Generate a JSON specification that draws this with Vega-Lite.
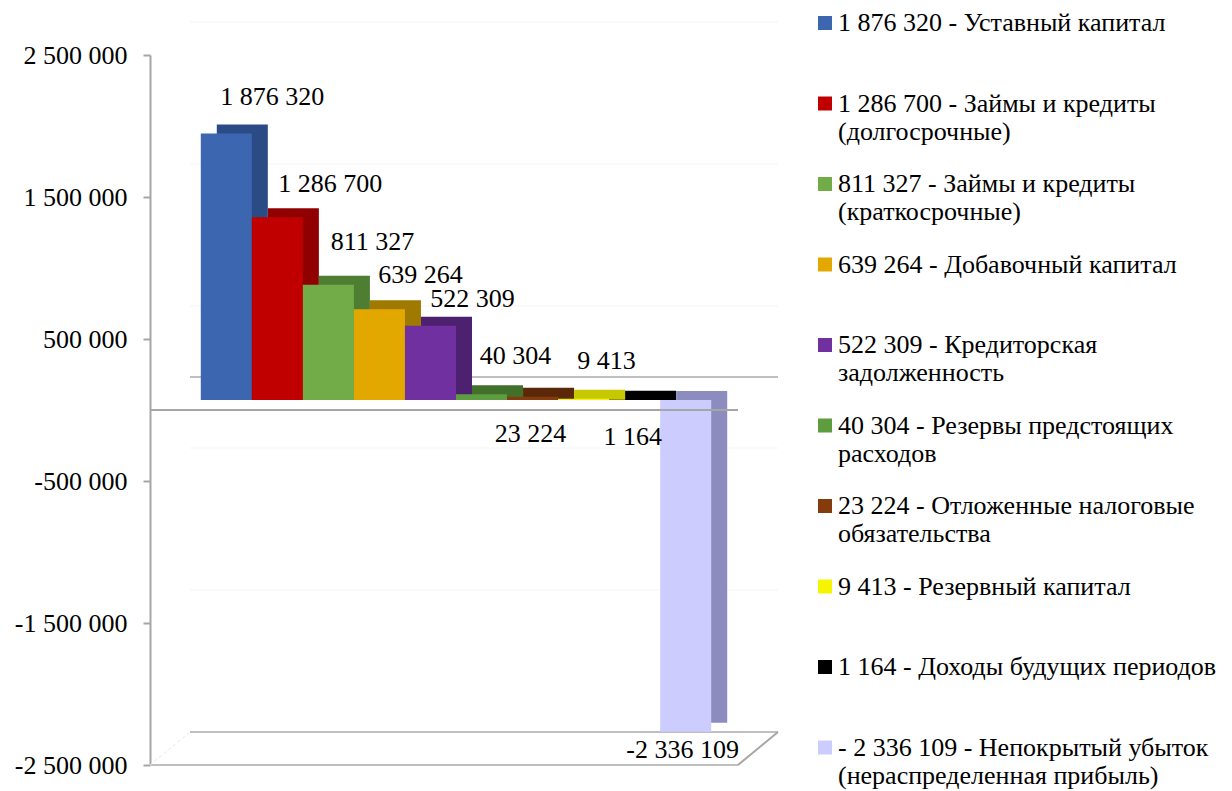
{
  "$schema": "https://vega.github.io/schema/vega-lite/v6.json",
  "width": 588,
  "height": 710,
  "autosize": {"type": "none"},
  "padding": {"left": 150, "top": 55, "right": 494, "bottom": 26},
  "background": "white",
  "config": {
    "view": {"stroke": null},
    "locale": {"number": {"decimal": ",", "thousands": " ", "grouping": [3], "currency": ["", ""], "minus": "-"}},
    "font": "Liberation Serif",
    "text": {"font": "Liberation Serif", "fontSize": 26, "color": "#000000", "baseline": "middle"}
  },
  "data": {
    "values": [
      {"id": 1, "name": "1 876 320 - Уставный капитал", "value": 1876320},
      {"id": 2, "name": "1 286 700 - Займы и кредиты\n(долгосрочные)", "value": 1286700},
      {"id": 3, "name": "811 327 - Займы и кредиты\n(краткосрочные)", "value": 811327},
      {"id": 4, "name": "639 264 - Добавочный капитал", "value": 639264},
      {"id": 5, "name": "522 309 - Кредиторская\nзадолженность", "value": 522309},
      {"id": 6, "name": "40 304 - Резервы предстоящих\nрасходов", "value": 40304},
      {"id": 7, "name": "23 224 - Отложенные налоговые\nобязательства", "value": 23224},
      {"id": 8, "name": "9 413 - Резервный капитал", "value": 9413},
      {"id": 9, "name": "1 164 - Доходы будущих периодов", "value": 1164},
      {"id": 10, "name": "- 2 336 109 -  Непокрытый убыток\n(нераспределенная прибыль)", "value": -2336109}
    ]
  },
  "layer": [
    {
      "data": {"values": [{"g": 2500000}, {"g": 1500000}, {"g": 500000}, {"g": -500000}, {"g": -1500000}]},
      "mark": {"type": "rule", "color": "#F5F5F5", "strokeWidth": 1, "xOffset": 40, "x2Offset": 40, "yOffset": -33},
      "encoding": {
        "x": {"value": 0},
        "x2": {"value": "width"},
        "y": {"field": "g", "type": "quantitative", "title": null,
          "scale": {"domain": [-2500000, 2500000], "nice": false, "zero": false},
          "axis": {
            "values": [2500000, 1500000, 500000, -500000, -1500000, -2500000],
            "format": ",d", "grid": false, "title": null,
            "domainColor": "#A6A6A6", "domainWidth": 2,
            "tickColor": "#A6A6A6", "tickWidth": 2, "tickSize": 7,
            "labelFont": "Liberation Serif", "labelFontSize": 26, "labelColor": "#000000",
            "labelPadding": 16
          }
        }
      }
    },
    {
      "data": {"values": [{"b": 0}, {"b": -2500000}]},
      "mark": {"type": "rule", "color": "#BFBFBF", "strokeWidth": 2, "xOffset": 40, "x2Offset": 40, "yOffset": -33},
      "encoding": {
        "x": {"value": 0},
        "x2": {"value": "width"},
        "y": {"field": "b", "type": "quantitative", "title": null}
      }
    },
    {
      "data": {"values": [{"b": -2500000}]},
      "mark": {"type": "rule", "color": "#BFBFBF", "strokeWidth": 2},
      "encoding": {"y": {"field": "b", "type": "quantitative", "title": null}}
    },
    {
      "data": {"values": [{"b": -2500000}]},
      "mark": {"type": "rule", "color": "#A6A6A6", "strokeWidth": 2, "x2Offset": 40, "y2Offset": -33},
      "encoding": {
        "x": {"value": "width"},
        "x2": {"value": "width"},
        "y": {"field": "b", "type": "quantitative", "title": null},
        "y2": {"field": "b"}
      }
    },
    {
      "data": {"values": [{"b": -2500000}]},
      "mark": {"type": "rule", "color": "#E6E6E6", "strokeWidth": 1, "strokeDash": [3, 3], "x2Offset": 40, "y2Offset": -33},
      "encoding": {
        "x": {"value": 0},
        "x2": {"value": 0},
        "y": {"field": "b", "type": "quantitative", "title": null},
        "y2": {"field": "b"}
      }
    },
    {
      "transform": [{"filter": "datum.value > 0"}],
      "mark": {"type": "bar", "xOffset": 28, "yOffset": -19, "y2Offset": -10},
      "encoding": {
        "x": {"field": "id", "type": "ordinal", "axis": null, "scale": {"paddingInner": 0, "paddingOuter": 0.76}},
        "y": {"field": "value", "type": "quantitative", "title": null, "stack": null},
        "y2": {"datum": 0},
        "fill": {"field": "name", "type": "nominal", "sort": {"field": "id", "op": "min"}, "legend": null,
          "scale": {"range": ["#2B4B86", "#900000", "#4E7E32", "#A07A00", "#4E2170", "#40702A", "#5A2808", "#C8C800", "#000000", "#8C8CBE"]}}
      }
    },
    {
      "transform": [{"filter": "datum.value < 0"}],
      "mark": {"type": "bar", "xOffset": 28, "yOffset": -19, "y2Offset": -19},
      "encoding": {
        "x": {"field": "id", "type": "ordinal", "axis": null},
        "y": {"field": "value", "type": "quantitative", "title": null, "stack": null},
        "y2": {"datum": 0},
        "fill": {"field": "name", "type": "nominal", "sort": {"field": "id", "op": "min"}, "legend": null}
      }
    },
    {
      "mark": {"type": "bar", "xOffset": 12, "yOffset": -10, "y2Offset": -10},
      "encoding": {
        "x": {"field": "id", "type": "ordinal", "axis": null},
        "y": {"field": "value", "type": "quantitative", "title": null, "stack": null},
        "y2": {"datum": 0},
        "color": {"field": "name", "type": "nominal", "sort": {"field": "id", "op": "min"},
          "scale": {"range": ["#3D66B0", "#C00000", "#71AC48", "#E2A800", "#7030A0", "#5E9C40", "#843C0C", "#F5F500", "#000000", "#CCCCFF"]},
          "legend": {
            "orient": "none", "legendX": 662, "legendY": -45, "title": null,
            "labelExpr": "indexof(datum.label, '\\n') >= 0 ? split(datum.label, '\\n') : [datum.label, '']",
            "symbolType": "square", "symbolSize": 196, "symbolStrokeWidth": 0,
            "labelFont": "Liberation Serif", "labelFontSize": 26, "labelColor": "#000000",
            "labelLimit": 600, "labelOffset": 0, "rowPadding": 26.5,
            "direction": "vertical"
          }
        }
      }
    },
    {
      "mark": {"type": "rule", "color": "#A6A6A6", "strokeWidth": 2},
      "encoding": {"y": {"datum": 0}}
    },
    {
      "transform": [{"filter": "datum.id == 1"}],
      "mark": {"type": "text", "dx": 58, "dy": -47},
      "encoding": {
        "x": {"field": "id", "type": "ordinal", "axis": null},
        "y": {"field": "value", "type": "quantitative", "title": null},
        "text": {"field": "value", "type": "quantitative", "format": ",d"}
      }
    },
    {
      "transform": [{"filter": "datum.id == 2"}],
      "mark": {"type": "text", "dx": 65, "dy": -43},
      "encoding": {
        "x": {"field": "id", "type": "ordinal", "axis": null},
        "y": {"field": "value", "type": "quantitative", "title": null},
        "text": {"field": "value", "type": "quantitative", "format": ",d"}
      }
    },
    {
      "transform": [{"filter": "datum.id == 3"}],
      "mark": {"type": "text", "dx": 56, "dy": -53},
      "encoding": {
        "x": {"field": "id", "type": "ordinal", "axis": null},
        "y": {"field": "value", "type": "quantitative", "title": null},
        "text": {"field": "value", "type": "quantitative", "format": ",d"}
      }
    },
    {
      "transform": [{"filter": "datum.id == 4"}],
      "mark": {"type": "text", "dx": 53, "dy": -44},
      "encoding": {
        "x": {"field": "id", "type": "ordinal", "axis": null},
        "y": {"field": "value", "type": "quantitative", "title": null},
        "text": {"field": "value", "type": "quantitative", "format": ",d"}
      }
    },
    {
      "transform": [{"filter": "datum.id == 5"}],
      "mark": {"type": "text", "dx": 54, "dy": -37},
      "encoding": {
        "x": {"field": "id", "type": "ordinal", "axis": null},
        "y": {"field": "value", "type": "quantitative", "title": null},
        "text": {"field": "value", "type": "quantitative", "format": ",d"}
      }
    },
    {
      "transform": [{"filter": "datum.id == 6"}],
      "mark": {"type": "text", "dx": 46, "dy": -48},
      "encoding": {
        "x": {"field": "id", "type": "ordinal", "axis": null},
        "y": {"field": "value", "type": "quantitative", "title": null},
        "text": {"field": "value", "type": "quantitative", "format": ",d"}
      }
    },
    {
      "transform": [{"filter": "datum.id == 8"}],
      "mark": {"type": "text", "dx": 35, "dy": -48},
      "encoding": {
        "x": {"field": "id", "type": "ordinal", "axis": null},
        "y": {"field": "value", "type": "quantitative", "title": null},
        "text": {"field": "value", "type": "quantitative", "format": ",d"}
      }
    },
    {
      "transform": [{"filter": "datum.id == 7 || datum.id == 9"}],
      "mark": {"type": "text", "dx": 10, "dy": 27},
      "encoding": {
        "x": {"field": "id", "type": "ordinal", "axis": null},
        "y": {"field": "value", "type": "quantitative", "title": null},
        "text": {"field": "value", "type": "quantitative", "format": ",d"}
      }
    },
    {
      "transform": [{"filter": "datum.id == 10"}],
      "mark": {"type": "text", "dx": 9, "dy": 8},
      "encoding": {
        "x": {"field": "id", "type": "ordinal", "axis": null},
        "y": {"field": "value", "type": "quantitative", "title": null},
        "text": {"field": "value", "type": "quantitative", "format": ",d"}
      }
    }
  ]
}
